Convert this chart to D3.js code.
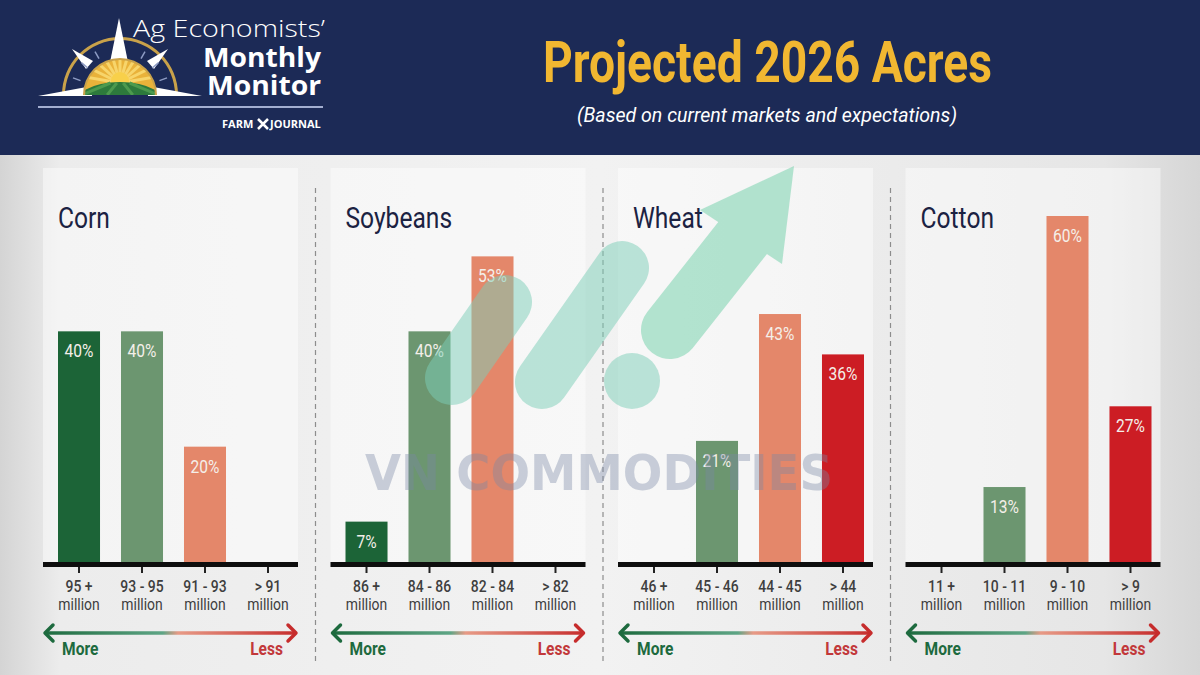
<!DOCTYPE html>
<html>
<head>
<meta charset="utf-8">
<script src="https://cdn.jsdelivr.net/npm/d3@7"></script>
<style>
	body { margin: 0; background: #ececec; }
	svg { display: block; }
</style>
</head>
<body>
<script>
let crops = 	['Corn', 'Soybeans', 'Wheat', 'Cotton']
let rangeLabels = [
	['95 +', '93 - 95', '91 - 93', '> 91'],
	['86 +', '84 - 86', '82 - 84', '> 82'],
	['46 +', '45 - 46', '44 - 45', '> 44'],
	['11 +', '10 - 11', '9 - 10', '> 9']
]
let cornValues = 	[40, 40, 20, 0]
let soyValues = 	[7, 40, 53, 0]
let wheatValues = 	[0, 21, 43, 36]
let cottonValues = 	[0, 13, 60, 27]
let cropValues = 	[cornValues, soyValues, wheatValues, cottonValues]
let barColors = 	['#1c6437', '#6c9670', '#e4876a', '#cc1d24']

let W = 1200, H = 675
let font = "Roboto, 'Noto Sans', sans-serif"
let squeeze = 0.82

let svg = d3.select('body').append('svg')
	.attr('width', W).attr('height', H)
let defs = svg.append('defs')

let bg = defs.append('linearGradient').attr('id', 'bg')
	.attr('x1', 0).attr('x2', 1).attr('y1', 0).attr('y2', 0)
bg.append('stop').attr('offset', 0).attr('stop-color', '#d4d4d4')
bg.append('stop').attr('offset', 0.05).attr('stop-color', '#ececec')
bg.append('stop').attr('offset', 0.5).attr('stop-color', '#f2f2f2')
bg.append('stop').attr('offset', 0.92).attr('stop-color', '#e6e6e6')
bg.append('stop').attr('offset', 1).attr('stop-color', '#d6d6d6')

svg.append('rect').attr('width', W).attr('height', H).attr('fill', 'url(#bg)')

// header
svg.append('rect').attr('width', W).attr('height', 155).attr('fill', '#1c2a56')

svg.append('text')
	.attr('x', 543).attr('y', 82)
	.attr('textLength', 449).attr('lengthAdjust', 'spacingAndGlyphs')
	.style('font-family', font).style('font-weight', 'bold').style('font-size', '58px')
	.attr('fill', '#f1b731')
	.text('Projected 2026 Acres')
svg.append('text')
	.attr('x', 577).attr('y', 122)
	.attr('textLength', 380).attr('lengthAdjust', 'spacingAndGlyphs')
	.style('font-family', font).style('font-style', 'italic').style('font-size', '21px')
	.attr('fill', '#ffffff')
	.text('(Based on current markets and expectations)')

// logo
let logo = svg.append('g')
let cx = 120, cy = 95
logo.append('path')
	.attr('d', d3.arc()({innerRadius: 55, outerRadius: 58, startAngle: -Math.PI/2, endAngle: Math.PI/2}))
	.attr('transform', `translate(${cx},${cy})`)
	.attr('fill', '#c9a24a')
let stars = [
	[[119, 18], [108, 72], [130, 72]],
	[[38, 96], [92, 86], [92, 96]],
	[[202, 96], [148, 86], [148, 96]],
	[[72, 49], [86, 69], [93, 61]],
	[[168, 49], [154, 69], [147, 61]]
]
logo.selectAll('.star').data(stars).join('polygon')
	.attr('points', d => d.map(p => p.join(',')).join(' '))
	.attr('fill', '#ffffff')
let rays = d3.range(-70, 71, 20)
logo.selectAll('.ray').data(rays.filter(a => Math.abs(a) > 15)).join('line')
	.attr('x1', a => cx + 42*Math.sin(a*Math.PI/180)).attr('y1', a => cy - 42*Math.cos(a*Math.PI/180))
	.attr('x2', a => cx + 50*Math.sin(a*Math.PI/180)).attr('y2', a => cy - 50*Math.cos(a*Math.PI/180))
	.attr('stroke', '#8e9cc4').attr('stroke-width', 1.5)
defs.append('clipPath').attr('id', 'sun')
	.append('path')
	.attr('d', d3.arc()({innerRadius: 0, outerRadius: 36, startAngle: -Math.PI/2, endAngle: Math.PI/2}))
	.attr('transform', `translate(${cx},${cy})`)
let sun = logo.append('g').attr('clip-path', 'url(#sun)')
sun.append('rect').attr('x', cx-40).attr('y', cy-40).attr('width', 80).attr('height', 40).attr('fill', '#e9b23a')
sun.selectAll('.sray').data(d3.range(-80, 81, 16)).join('line')
	.attr('x1', cx).attr('y1', cy-12)
	.attr('x2', a => cx + 40*Math.sin(a*Math.PI/180)).attr('y2', a => cy - 12 - 40*Math.cos(a*Math.PI/180))
	.attr('stroke', '#f7d56b').attr('stroke-width', 3)
sun.append('circle').attr('cx', cx).attr('cy', cy-14).attr('r', 9).attr('fill', '#f8d04a')
sun.append('ellipse').attr('cx', cx).attr('cy', cy+14).attr('rx', 50).attr('ry', 27).attr('fill', '#2d7a3c')
sun.selectAll('.field').data([-24, -8, 8, 24]).join('line')
	.attr('x1', d => cx + d*0.4).attr('y1', cy-12)
	.attr('x2', d => cx + d*1.6).attr('y2', cy)
	.attr('stroke', '#4c9a4e').attr('stroke-width', 3)
logo.append('path')
	.attr('d', d3.arc()({innerRadius: 35, outerRadius: 37, startAngle: -Math.PI/2, endAngle: Math.PI/2}))
	.attr('transform', `translate(${cx},${cy})`)
	.attr('fill', '#c9a24a')

// wordmark
let word = logo.append('text')
	.style('font-family', "'Open Sans', sans-serif")
	.attr('fill', '#ffffff')
word.append('tspan').attr('x', 133).attr('y', 37)
	.attr('textLength', 192).attr('lengthAdjust', 'spacingAndGlyphs')
	.style('font-weight', 300).style('font-size', '24px')
	.text('Ag Economists\u2019')
word.append('tspan').attr('x', 203).attr('y', 67)
	.attr('textLength', 118).attr('lengthAdjust', 'spacingAndGlyphs')
	.style('font-weight', 'bold').style('font-size', '26px')
	.text('Monthly')
word.append('tspan').attr('x', 207).attr('y', 95)
	.attr('textLength', 114).attr('lengthAdjust', 'spacingAndGlyphs')
	.style('font-weight', 'bold').style('font-size', '26px')
	.text('Monitor')
logo.append('line')
	.attr('x1', 38).attr('x2', 323).attr('y1', 107).attr('y2', 107)
	.attr('stroke', '#a3aed0').attr('stroke-width', 2)
logo.append('text').attr('x', 222).attr('y', 128)
	.style('font-family', "'Open Sans', sans-serif").style('font-weight', 'bold').style('font-size', '11px')
	.attr('fill', '#ffffff').text('FARM')
logo.append('path').attr('d', 'M258,119 L268,129 M268,119 L258,129')
	.attr('stroke', '#ffffff').attr('stroke-width', 2.5)
logo.append('text').attr('x', 270).attr('y', 128)
	.style('font-family', "'Open Sans', sans-serif").style('font-weight', 'bold').style('font-size', '11px')
	.attr('fill', '#ffffff').text('JOURNAL')

// panels
let panelW = 255
let panelX = i => 43 + 287.5*i
let y = d3.scaleLinear().domain([0, 60]).range([562, 216])

crops.forEach((crop, i) => {
	let px = panelX(i)
	let g = svg.append('g')
	let x = d3.scaleBand().domain(d3.range(4)).range([px + 4.5, px + 256.5])
		.paddingInner(0.333).paddingOuter(0.1667)
	let mid = j => x(j) + x.bandwidth()/2
	let data = cropValues[i].map((v, j) => ({v: v, j: j}))

	g.append('rect')
		.attr('x', px).attr('y', 168).attr('width', panelW).attr('height', 394)
		.attr('fill', '#ffffff').attr('opacity', 0.45)

	if (i > 0) {
		g.append('line')
			.attr('x1', px - 15).attr('x2', px - 15)
			.attr('y1', 188).attr('y2', 662)
			.attr('stroke', '#8d8d8d').attr('stroke-width', 1.2)
			.attr('stroke-dasharray', '5,4')
	}

	g.append('text')
		.attr('transform', `translate(${px + 15},228) scale(${squeeze},1)`)
		.style('font-family', font).style('font-size', '30px')
		.attr('fill', '#1b2242')
		.text(crop)

	g.selectAll('.bar').data(data.filter(d => d.v > 0)).join('rect')
		.attr('x', d => x(d.j)).attr('width', x.bandwidth())
		.attr('y', d => y(d.v)).attr('height', d => y(0) - y(d.v))
		.attr('fill', d => barColors[d.j])

	g.selectAll('.lbl').data(data.filter(d => d.v > 0)).join('text')
		.attr('transform', d => `translate(${mid(d.j)},${y(d.v) + 26}) scale(${squeeze},1)`)
		.attr('text-anchor', 'middle')
		.style('font-family', font).style('font-size', '19px')
		.attr('fill', '#f4efe9')
		.text(d => d.v + '%')

	g.append('rect')
		.attr('x', px).attr('y', 562).attr('width', panelW).attr('height', 5)
		.attr('fill', '#0e0e0e')

	let ax = g.append('g').attr('transform', 'translate(0,567)')
		.call(d3.axisBottom(x).tickSize(6).tickFormat(''))
	ax.select('.domain').remove()
	ax.selectAll('line').attr('stroke', '#222').attr('stroke-width', 2)

	let tl = g.selectAll('.tl').data(rangeLabels[i]).join('text')
		.attr('transform', (d, j) => `translate(${mid(j)},0) scale(${squeeze},1)`)
		.attr('text-anchor', 'middle')
		.style('font-family', font).style('font-size', '17px')
		.attr('fill', '#3e3e3e')
	tl.append('tspan').attr('x', 0).attr('y', 592).style('font-weight', 500).text(d => d)
	tl.append('tspan').attr('x', 0).attr('y', 610).text('million')

	// more / less arrow
	let gid = 'arr' + i
	let grad = defs.append('linearGradient').attr('id', gid)
		.attr('gradientUnits', 'userSpaceOnUse')
		.attr('x1', px).attr('x2', px + panelW).attr('y1', 0).attr('y2', 0)
	grad.append('stop').attr('offset', 0).attr('stop-color', '#1d6a3e')
	grad.append('stop').attr('offset', 0.47).attr('stop-color', '#5ea585')
	grad.append('stop').attr('offset', 0.53).attr('stop-color', '#e79a86')
	grad.append('stop').attr('offset', 1).attr('stop-color', '#c62c2c')

	let ay = 633
	g.append('line')
		.attr('x1', px + 2).attr('x2', px + panelW - 2).attr('y1', ay).attr('y2', ay)
		.attr('stroke', `url(#${gid})`).attr('stroke-width', 3.5)
	g.append('path')
		.attr('d', `M${px + 10},${ay - 8} L${px + 2},${ay} L${px + 10},${ay + 8}`)
		.attr('fill', 'none').attr('stroke', '#1d6a3e').attr('stroke-width', 3.5)
		.attr('stroke-linecap', 'round').attr('stroke-linejoin', 'round')
	g.append('path')
		.attr('d', `M${px + panelW - 10},${ay - 8} L${px + panelW - 2},${ay} L${px + panelW - 10},${ay + 8}`)
		.attr('fill', 'none').attr('stroke', '#c62c2c').attr('stroke-width', 3.5)
		.attr('stroke-linecap', 'round').attr('stroke-linejoin', 'round')
	g.append('text')
		.attr('transform', `translate(${px + 19},655) scale(${squeeze},1)`)
		.style('font-family', font).style('font-weight', 'bold').style('font-size', '19px')
		.attr('fill', '#1d6a3e').text('More')
	g.append('text')
		.attr('transform', `translate(${px + 240},655) scale(${squeeze},1)`)
		.attr('text-anchor', 'end')
		.style('font-family', font).style('font-weight', 'bold').style('font-size', '19px')
		.attr('fill', '#c2383a').text('Less')
})

// watermark
let wm = svg.append('g').attr('opacity', 0.5)
wm.append('line')
	.attr('x1', 452).attr('y1', 378).attr('x2', 505).attr('y2', 302)
	.attr('stroke', '#7ccfb8').attr('stroke-width', 54).attr('stroke-linecap', 'round')
wm.append('line')
	.attr('x1', 542).attr('y1', 382).attr('x2', 622).attr('y2', 268)
	.attr('stroke', '#7ccfb8').attr('stroke-width', 54).attr('stroke-linecap', 'round')
wm.append('circle').attr('cx', 632).attr('cy', 381).attr('r', 28).attr('fill', '#7ccfb8')
wm.append('line')
	.attr('x1', 670).attr('y1', 330).attr('x2', 745).attr('y2', 235)
	.attr('stroke', '#6fd0a8').attr('stroke-width', 58).attr('stroke-linecap', 'round')
wm.append('polygon')
	.attr('points', '794,166 700,210 782,264')
	.attr('fill', '#6fd0a8')
wm.append('text')
	.attr('x', 365).attr('y', 490)
	.attr('textLength', 468).attr('lengthAdjust', 'spacingAndGlyphs')
	.style('font-family', "'DejaVu Sans', sans-serif").style('font-weight', 'bold').style('font-size', '50px')
	.attr('fill', '#7a88a6').attr('opacity', 0.75)
	.text('VN COMMODITIES')
</script>
</body>
</html>
